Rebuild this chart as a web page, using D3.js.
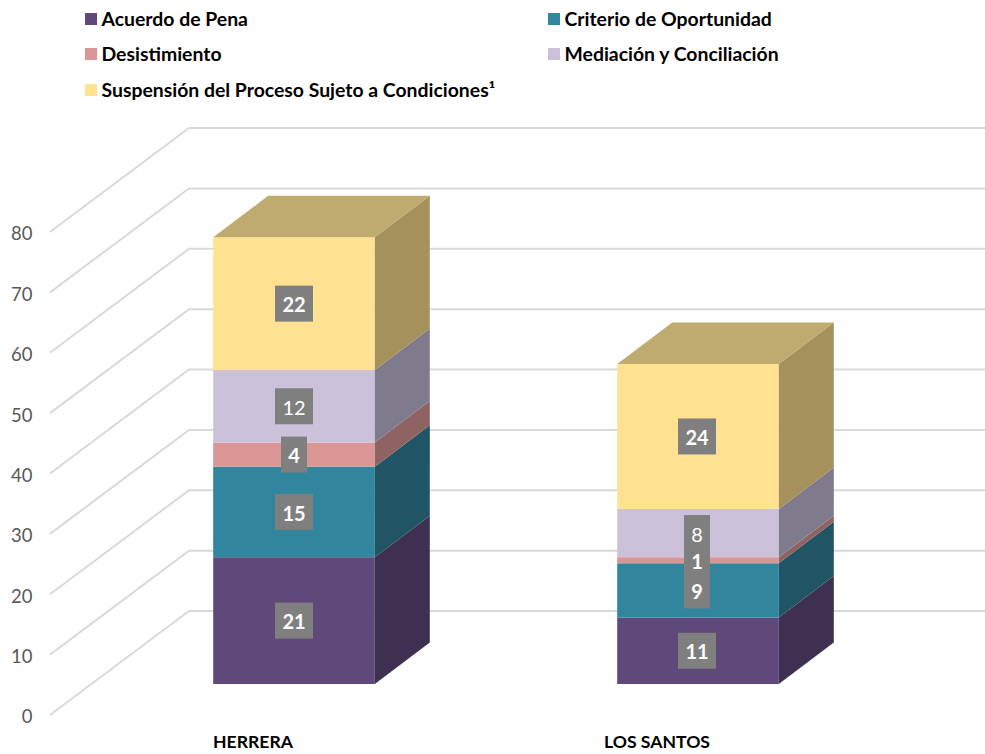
<!DOCTYPE html>
<html>
<head>
<meta charset="utf-8">
<script src="https://cdn.jsdelivr.net/npm/d3@7"></script>
<style>
  html, body { margin: 0; padding: 0; background: #fff; }
  svg { display: block; font-family: Lato, "Open Sans", sans-serif; }
</style>
</head>
<body>
<script>
// data
var categories = [ 'HERRERA', 'LOS SANTOS' ];
var seriesNames = [ 'Acuerdo de Pena', 'Criterio de Oportunidad', 'Desistimiento', 'Mediación y Conciliación', 'Suspensión del Proceso Sujeto a Condiciones¹' ];
var herrera = [ 21, 15, 4, 12, 22 ];
var losSantos = [ 11, 9, 1, 8, 24 ];
var yTicks = [ 0, 10, 20, 30, 40, 50, 60, 70, 80 ];
var boldLabels = [ true, true, true, false, true ];

var frontColors = [ '#5f497a', '#31859c', '#d99694', '#ccc1da', '#ffe291' ];
var sideColors = [ '#3f2f50', '#1f5564', '#8f6361', '#807b8c', '#a5915c' ];
var topColor = '#bfab70';

var width = 985, height = 754;

var svg = d3.select( 'body' ).append( 'svg' )
    .attr( 'width', width )
    .attr( 'height', height );

var x = d3.scaleBand()
    .domain( categories )
    .range( [ 51, 859 ] )
    .paddingInner( 0.6 )
    .paddingOuter( 0.3 );

var y = d3.scaleLinear()
    .domain( [ 0, 80 ] )
    .range( [ 715, 232 ] );

// wall depth, and where the bars sit inside it
var wallX = 139, wallY = 104;
var barShiftX = 41, barShiftY = 31;
var depthX = 55, depthY = 41.5;

// rows for the stack
var rows = categories.map( function( c, i ) {
    var row = { category: c };
    seriesNames.forEach( function( s, j ) {
        row[ s ] = ( i === 0 ? herrera : losSantos )[ j ];
    } );
    return row;
} );
var stacked = d3.stack().keys( seriesNames )( rows );

// gridlines: slanted side wall + back wall
var grid = svg.append( 'g' );
yTicks.forEach( function( t ) {
    grid.append( 'polyline' )
        .attr( 'points', [
            [ 50, y( t ) ],
            [ 50 + wallX, y( t ) - wallY ],
            [ width, y( t ) - wallY ]
        ].join( ' ' ) )
        .attr( 'fill', 'none' )
        .attr( 'stroke', '#d9d9d9' )
        .attr( 'stroke-width', 2 );
} );

// value axis
var yAxis = svg.append( 'g' )
    .attr( 'transform', 'translate(32.5,2)' )
    .call( d3.axisLeft( y ).tickValues( yTicks ).tickSize( 0 ).tickPadding( 0 ) );
yAxis.select( '.domain' ).remove();
yAxis.selectAll( 'text' )
    .attr( 'font-family', 'Lato, "Open Sans", sans-serif' )
    .attr( 'font-size', 18.5 )
    .attr( 'fill', '#595959' );

// category axis
var xAxis = svg.append( 'g' )
    .attr( 'transform', 'translate(0,735)' )
    .call( d3.axisBottom( x ).tickSize( 0 ).tickPadding( 0 ) );
xAxis.select( '.domain' ).remove();
xAxis.selectAll( 'text' )
    .attr( 'font-family', 'Lato, "Open Sans", sans-serif' )
    .attr( 'font-size', 17.6 )
    .attr( 'font-weight', 700 )
    .attr( 'fill', '#000' );

// bars
var bars = svg.append( 'g' );
stacked.forEach( function( layer, s ) {
    layer.forEach( function( d, i ) {
        var x0 = x( categories[ i ] ) + barShiftX;
        var x1 = x0 + x.bandwidth();
        var y0 = y( d[ 0 ] ) - barShiftY;
        var y1 = y( d[ 1 ] ) - barShiftY;

        bars.append( 'rect' )
            .attr( 'x', x0 )
            .attr( 'y', y1 )
            .attr( 'width', x.bandwidth() )
            .attr( 'height', y0 - y1 )
            .attr( 'fill', frontColors[ s ] );

        bars.append( 'polygon' )
            .attr( 'points', [
                [ x1, y1 ], [ x1 + depthX, y1 - depthY ],
                [ x1 + depthX, y0 - depthY ], [ x1, y0 ]
            ].join( ' ' ) )
            .attr( 'fill', sideColors[ s ] );

        // only the last series shows its lid
        if ( s === stacked.length - 1 ) {
            bars.append( 'polygon' )
                .attr( 'points', [
                    [ x0, y1 ], [ x0 + depthX, y1 - depthY ],
                    [ x1 + depthX, y1 - depthY ], [ x1, y1 ]
                ].join( ' ' ) )
                .attr( 'fill', topColor );
        }
    } );
} );

// label centre, the second bar's labels sit 1px left of its middle
function labelX( i ) {
    return x( categories[ i ] ) + barShiftX + x.bandwidth() / 2 - i;
}

// data labels go last so they stay above every bar
var labels = svg.append( 'g' );
stacked.forEach( function( layer, s ) {
    layer.forEach( function( d, i ) {
        var cy = y( ( d[ 0 ] + d[ 1 ] ) / 2 ) - barShiftY;
        var value = d[ 1 ] - d[ 0 ];
        var w = value < 10 ? 26 : 38;

        labels.append( 'rect' )
            .attr( 'x', labelX( i ) - w / 2 )
            .attr( 'y', cy - 18 )
            .attr( 'width', w )
            .attr( 'height', 36 )
            .attr( 'fill', '#7f7f7f' );
    } );
} );
stacked.forEach( function( layer, s ) {
    layer.forEach( function( d, i ) {
        var cy = y( ( d[ 0 ] + d[ 1 ] ) / 2 ) - barShiftY;

        labels.append( 'text' )
            .attr( 'x', labelX( i ) )
            .attr( 'y', cy )
            .attr( 'dy', '0.43em' )
            .attr( 'text-anchor', 'middle' )
            .attr( 'font-size', 20 )
            .attr( 'font-weight', boldLabels[ s ] ? 700 : 400 )
            .attr( 'fill', '#fff' )
            .text( d[ 1 ] - d[ 0 ] );
    } );
} );

// legend
var legendX = [ 85, 548, 85, 548, 85 ];
var legendY = [ 19, 19, 54, 54, 90 ];
var legend = svg.append( 'g' );
seriesNames.forEach( function( name, i ) {
    legend.append( 'rect' )
        .attr( 'x', legendX[ i ] )
        .attr( 'y', legendY[ i ] - 6 )
        .attr( 'width', 12 )
        .attr( 'height', 12 )
        .attr( 'fill', frontColors[ i ] );
    legend.append( 'text' )
        .attr( 'x', legendX[ i ] + 16.5 )
        .attr( 'y', legendY[ i ] )
        .attr( 'dy', '0.35em' )
        .attr( 'font-size', 19.4 )
        .attr( 'font-weight', 700 )
        .attr( 'fill', '#000' )
        .text( name );
} );
</script>
</body>
</html>
